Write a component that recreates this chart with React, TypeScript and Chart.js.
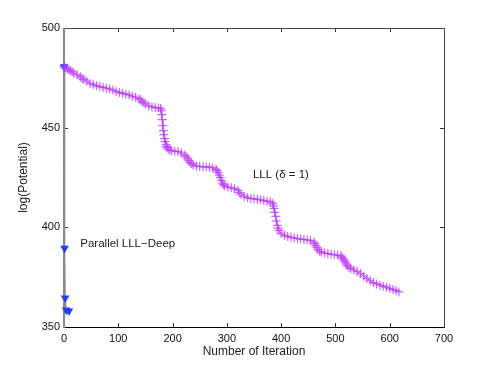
import React, { useEffect, useRef } from "react";
import { Chart, registerables } from "chart.js";

Chart.register(...registerables);

// LLL (delta = 1) series: iteration numbers and log(Potential) values
const lllIterations = [
  0, 3, 6, 9, 12, 15, 18, 24, 30, 33, 36, 42, 48, 54, 60, 66, 72, 78, 84, 90, 96, 102, 108, 114,
  120, 126, 132, 138, 141, 144, 147, 150, 156, 162, 168, 174, 178, 179, 180, 181, 182, 183, 184, 185, 186, 188, 189, 190, 192, 195, 198, 204, 210,
  216, 222, 225, 228, 230, 232, 235, 238, 244, 250, 256, 262, 268, 274, 280, 282, 284, 286, 288, 290, 292, 294, 296, 302, 308, 314, 320,
  323, 326, 332, 338, 344, 350, 356, 362, 368, 374, 380, 384, 386, 387, 388, 390, 391, 393, 394, 396, 400, 406, 412, 418, 424,
  430, 436, 442, 448, 454, 460, 462, 464, 466, 468, 471, 474, 480, 486, 492, 498, 504, 510, 512, 514, 516, 518, 520, 522, 525, 528, 534,
  540, 546, 552, 558, 564, 570, 576, 582, 588, 594, 600, 606, 612, 617,
];
const lllPotential = [
  480.5, 480.0, 479.5, 479.0, 478.5, 478.0, 477.3, 476.5, 475.6, 474.8, 474.2, 473.3, 472.2, 471.6, 471.0, 470.6, 470.2, 469.8, 469.4, 468.9, 468.2, 467.6, 467.2, 466.8,
  466.4, 465.8, 465.2, 464.4, 464.0, 463.2, 462.5, 461.9, 460.9, 460.4, 460.1, 459.9, 459.6, 458.5, 456.5, 454.0, 451.0, 448.5, 446.5, 444.5, 443.0, 441.5, 440.5, 440.0, 439.2, 438.8, 438.5, 438.2, 438.0,
  437.3, 436.2, 435.5, 434.5, 433.5, 432.6, 432.0, 431.3, 430.7, 430.5, 430.4, 430.3, 430.2, 429.8, 429.0, 428.4, 427.5, 426.2, 425.0, 423.5, 422.2, 421.4, 420.8, 420.2, 419.8, 419.4, 418.5,
  417.4, 416.5, 415.5, 414.8, 414.5, 414.3, 414.1, 413.8, 413.4, 413.1, 412.8, 412.0, 410.8, 409.5, 407.5, 405.5, 403.2, 401.0, 399.6, 398.5, 397.0, 396.0, 395.4, 395.0, 394.7,
  394.4, 394.1, 393.9, 393.7, 393.4, 392.6, 391.8, 390.8, 389.8, 388.8, 388.0, 387.6, 387.1, 386.8, 386.5, 386.3, 386.1, 385.7, 385.1, 384.3, 383.4, 382.5, 381.6, 380.8, 380.0, 379.3, 378.6,
  377.8, 376.8, 375.5, 374.3, 373.2, 372.3, 371.6, 371.0, 370.5, 370.0, 369.4, 368.8, 368.2, 367.6,
];

// Parallel LLL-Deep series
const deepIterations = [0, 1, 2, 4, 9];
const deepPotential = [480.5, 389.5, 364.5, 358.5, 358.0];

// Axes
const xTicks = [0, 100, 200, 300, 400, 500, 600, 700];
const yTicks = [350, 400, 450, 500];
const xTitle = "Number of Iteration";
const yTitle = "log(Potential)";
const lllLabel = "LLL (\u03B4 = 1)";
const deepLabel = "Parallel LLL\u2212Deep";

const FONT = "'Liberation Sans', Arial, Helvetica, sans-serif";

const framePlugin = {
  id: "matlabFrame",
  beforeDatasetsDraw(chart: any) {
    const { ctx, chartArea: a, scales } = chart;
    ctx.save();
    ctx.strokeStyle = "#333";
    ctx.lineWidth = 1;
    const tl = 4;
    ctx.beginPath();
    xTicks.forEach((v) => {
      const px = Math.round(scales.x.getPixelForValue(v)) + 0.5;
      ctx.moveTo(px, a.bottom);
      ctx.lineTo(px, a.bottom - tl);
      ctx.moveTo(px, a.top);
      ctx.lineTo(px, a.top + tl);
    });
    yTicks.forEach((v) => {
      const py = Math.round(scales.y.getPixelForValue(v)) + 0.5;
      ctx.moveTo(a.left, py);
      ctx.lineTo(a.left + tl, py);
      ctx.moveTo(a.right, py);
      ctx.lineTo(a.right - tl, py);
    });
    ctx.stroke();
    ctx.strokeStyle = "#444";
    ctx.beginPath();
    ctx.moveTo(a.left, a.top + 0.5);
    ctx.lineTo(a.right + 0.5, a.top + 0.5);
    ctx.lineTo(a.right + 0.5, a.bottom);
    ctx.stroke();
    ctx.strokeStyle = "#000";
    ctx.beginPath();
    ctx.moveTo(a.left, a.bottom + 0.5);
    ctx.lineTo(a.right + 1, a.bottom + 0.5);
    ctx.stroke();
    ctx.strokeStyle = "#8a8a8a";
    ctx.lineWidth = 2;
    ctx.beginPath();
    ctx.moveTo(a.left, a.top);
    ctx.lineTo(a.left, a.bottom + 1);
    ctx.stroke();
    ctx.restore();
  },
  afterDraw(chart: any) {
    const { ctx, chartArea: a, scales } = chart;
    ctx.save();
    ctx.fillStyle = "#222";
    ctx.font = `12px ${FONT}`;
    ctx.textAlign = "center";
    ctx.textBaseline = "middle";
    ctx.fillText(xTitle, (a.left + a.right) / 2, 352);
    ctx.save();
    ctx.translate(24, (a.top + a.bottom) / 2);
    ctx.rotate(-Math.PI / 2);
    ctx.fillText(yTitle, 0, 0);
    ctx.restore();
    ctx.textAlign = "left";
    ctx.font = `11.5px ${FONT}`;
    ctx.fillText(lllLabel, scales.x.getPixelForValue(348), scales.y.getPixelForValue(426.5));
    ctx.fillText(deepLabel, scales.x.getPixelForValue(30), scales.y.getPixelForValue(391.5));
    ctx.restore();
  },
};

export default function App() {
  const ref = useRef<HTMLCanvasElement | null>(null);
  useEffect(() => {
    document.body.style.margin = "0";
    const canvas = ref.current!;
    const chart = new Chart(canvas, {
      type: "line",
      data: {
        datasets: [
          {
            label: "LLL",
            data: lllIterations.map((x, i) => ({ x, y: lllPotential[i] })),
            borderColor: "#bf40ff",
            backgroundColor: "#bf40ff",
            borderWidth: 1,
            pointStyle: "cross",
            pointRadius: 4.5,
            pointBorderWidth: 1.2,
            pointBorderColor: "rgba(191,64,255,0.8)",
            tension: 0,
            clip: false,
          } as any,
          {
            label: "Parallel",
            data: deepIterations.map((x, i) => ({ x, y: deepPotential[i] })),
            borderColor: "#8a8a8a",
            backgroundColor: "#1f3cff",
            borderWidth: 1.5,
            pointStyle: "triangle",
            rotation: 180,
            pointRadius: 5,
            pointBorderWidth: 0,
            pointBackgroundColor: "#1f3cff",
            pointBorderColor: "#1f3cff",
            tension: 0,
            clip: false,
          } as any,
        ],
      },
      options: {
        animation: false,
        responsive: false,
        events: [],
        layout: { padding: { top: 28, right: 47, left: 0, bottom: 0 } },
        plugins: { legend: { display: false }, tooltip: { enabled: false } },
        scales: {
          x: {
            type: "linear",
            min: 0,
            max: 700,
            afterBuildTicks: (s: any) => {
              s.ticks = xTicks.map((v) => ({ value: v }));
            },
            afterFit: (s: any) => {
              s.height = 42;
            },
            grid: { display: false, drawTicks: false },
            border: { display: false },
            ticks: { color: "#111", font: { size: 11, family: FONT }, padding: 5, maxRotation: 0 },
          },
          y: {
            type: "linear",
            min: 350,
            max: 500,
            afterBuildTicks: (s: any) => {
              s.ticks = yTicks.map((v) => ({ value: v }));
            },
            afterFit: (s: any) => {
              s.width = 64;
            },
            grid: { display: false, drawTicks: false },
            border: { display: false },
            ticks: { color: "#111", font: { size: 11, family: FONT }, padding: 4 },
          },
        },
      },
      plugins: [framePlugin],
    } as any);
    return () => chart.destroy();
  }, []);
  return (
    <div style={{ width: 491, height: 369 }}>
      <canvas ref={ref} width={491} height={369} style={{ display: "block" }} />
    </div>
  );
}
